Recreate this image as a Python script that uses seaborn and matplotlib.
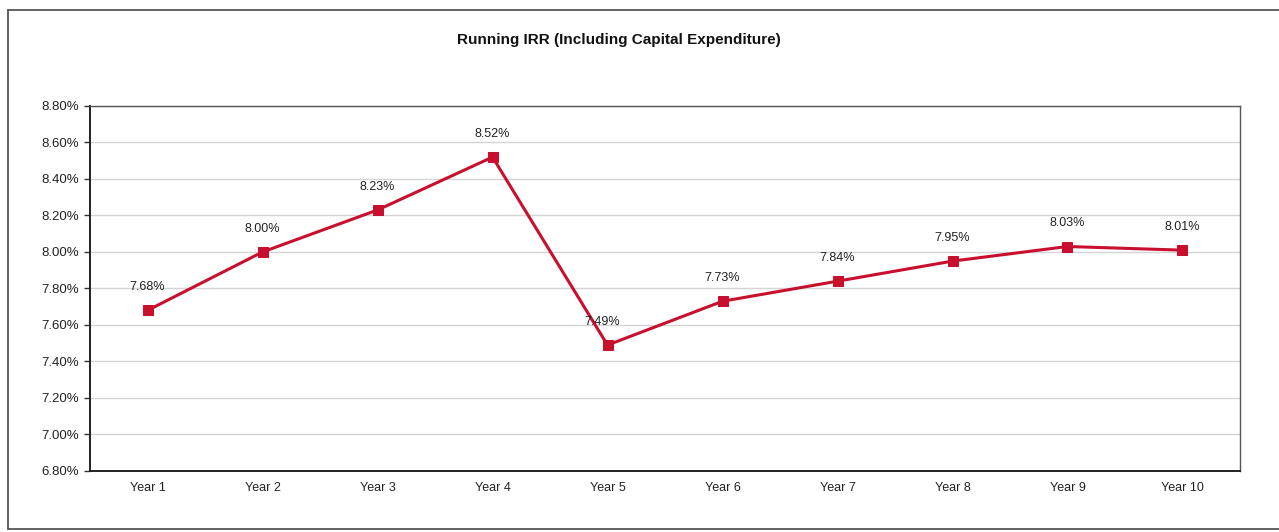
import matplotlib
matplotlib.use("Agg")
import matplotlib.pyplot as plt
from matplotlib.lines import Line2D
from matplotlib.ticker import FixedLocator, FuncFormatter
import seaborn as sns
import pandas as pd

years = ["Year 1", "Year 2", "Year 3", "Year 4", "Year 5",
         "Year 6", "Year 7", "Year 8", "Year 9", "Year 10"]
irr = [7.68, 8.00, 8.23, 8.52, 7.49, 7.73, 7.84, 7.95, 8.03, 8.01]
y_ticks = [6.80, 7.00, 7.20, 7.40, 7.60, 7.80, 8.00, 8.20, 8.40, 8.60, 8.80]

df = pd.DataFrame({"year": years, "irr": irr, "pos": range(len(years))})

sns.set_theme(style="white")
plt.rcParams["font.family"] = ["Liberation Sans", "DejaVu Sans"]

fig = plt.figure(figsize=(12.79, 5.32), dpi=100)
ax = fig.add_axes([0.0704, 0.1147, 0.8991, 0.6861])

line_color = "#C8102E"
sns.lineplot(data=df, x="pos", y="irr", ax=ax, color=line_color, linewidth=2.2,
             marker="s", markersize=7.5, markeredgecolor=line_color,
             markerfacecolor=line_color)

# value labels above each point
for _, row in df.iterrows():
    dx = -0.05 if row["year"] == "Year 5" else 0.0
    ax.annotate(f"{row['irr']:.2f}%", (row["pos"] + dx, row["irr"]),
                xytext=(0, 12.5), textcoords="offset points",
                ha="center", va="bottom", fontsize=9, color="#222222")

ax.set_xlim(-0.5, len(years) - 0.5)
ax.set_ylim(y_ticks[0], y_ticks[-1])
ax.set_yticks(y_ticks)
ax.yaxis.set_major_formatter(FuncFormatter(lambda v, _: f"{v:.2f}%"))

# category labels centred, tick marks on category boundaries
ax.set_xticks(range(len(years)))
ax.set_xticklabels(years)
ax.xaxis.set_minor_locator(FixedLocator([i - 0.5 for i in range(len(years) + 1)]))
ax.tick_params(axis="x", which="major", length=0, pad=8, labelsize=9, labelcolor="#222222")
ax.tick_params(axis="x", which="minor", length=4, width=1, color="#333333", direction="out")
ax.tick_params(axis="y", which="major", length=4, width=1, color="#333333",
               direction="out", left=True, pad=4, labelsize=9.5, labelcolor="#222222")

ax.grid(axis="y", color="#d4d4d4", linewidth=1)
ax.set_axisbelow(True)
ax.set_xlabel("")
ax.set_ylabel("")
for side in ["left", "bottom"]:
    ax.spines[side].set_color("#222222")
    ax.spines[side].set_linewidth(1.4)
for side in ["top", "right"]:
    ax.spines[side].set_color("#555555")
    ax.spines[side].set_linewidth(1.0)

fig.text(0.484, 0.925, "Running IRR (Including Capital Expenditure)",
         ha="center", va="center", fontsize=11, fontweight="bold", color="#111111")

# outer chart frame
frame_kw = dict(transform=fig.transFigure, color="#555555", linewidth=1.3)
x0, y0, y1 = 8 / 1279, 1 - 529 / 532, 1 - 10 / 532
fig.add_artist(Line2D([x0, 1.0], [y1, y1], **frame_kw))
fig.add_artist(Line2D([x0, x0], [y0, y1], **frame_kw))
fig.add_artist(Line2D([x0, 1.0], [y0, y0], **frame_kw))

fig.savefig("out.png", dpi=100, facecolor="white")
